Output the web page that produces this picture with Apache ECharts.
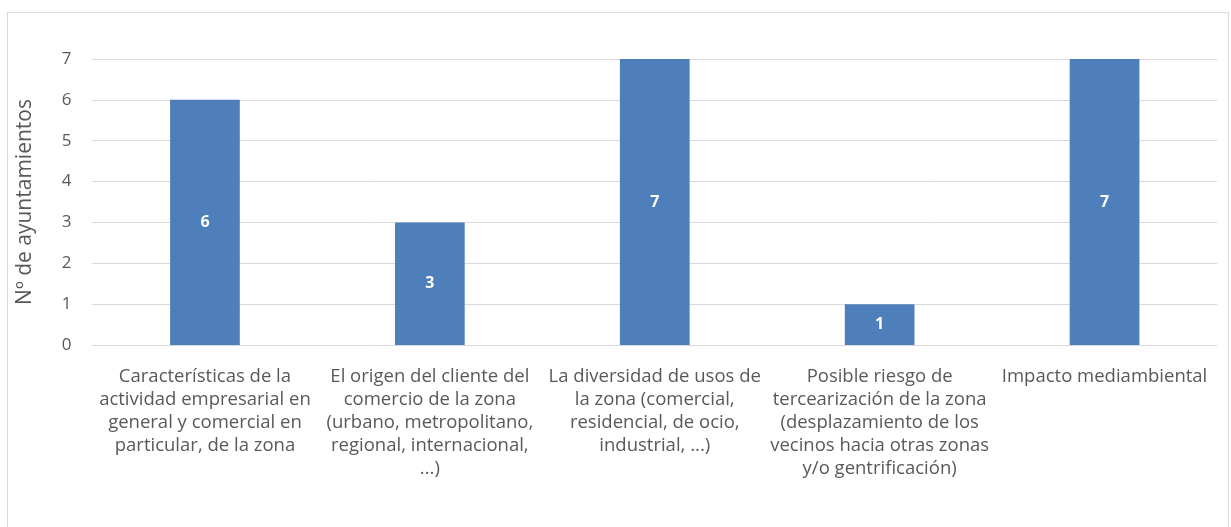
<!DOCTYPE html>
<html>
<head>
<meta charset="utf-8">
<script src="https://cdn.jsdelivr.net/npm/echarts@6/dist/echarts.min.js"></script>
<style>
  html, body { margin: 0; padding: 0; background: #ffffff; }
  #frame {
    position: absolute; left: 7px; top: 12px; width: 1222px; height: 530px;
    border: 1px solid #d9d9d9; box-sizing: border-box;
  }
  #chart { position: absolute; left: 0; top: 0; width: 1231px; height: 527px; }
</style>
</head>
<body>
<div id="frame"></div>
<div id="chart"></div>
<script>
// Factors considered by the councils
const categories = [
  'Características de la\nactividad empresarial en\ngeneral y comercial en\nparticular, de la zona',
  'El origen del cliente del\ncomercio de la zona\n(urbano, metropolitano,\nregional, internacional,\n...)',
  'La diversidad de usos de\nla zona (comercial,\nresidencial, de ocio,\nindustrial, ...)',
  'Posible riesgo de\ntercearización de la zona\n(desplazamiento de los\nvecinos hacia otras zonas\ny/o gentrificación)',
  'Impacto mediambiental'
];
const counts = [6, 3, 7, 1, 7];
const yTicks = [0, 1, 2, 3, 4, 5, 6, 7];

const font = '"Open Sans", Lato, sans-serif';
const chart = echarts.init(document.getElementById('chart'), null, { renderer: 'canvas' });
chart.setOption({
  animation: false,
  grid: { left: 92.5, right: 14, top: 59, bottom: 182, containLabel: false },
  xAxis: {
    type: 'category',
    data: categories,
    axisLine: { show: true, lineStyle: { color: '#d9d9d9', width: 1 } },
    axisTick: { show: false },
    axisLabel: {
      interval: 0, margin: 20, color: '#595959', fontFamily: font, fontSize: 18.5,
      lineHeight: 23, align: 'center'
    }
  },
  yAxis: {
    type: 'value',
    min: yTicks[0], max: yTicks[yTicks.length - 1], interval: 1,
    name: 'Nº de ayuntamientos',
    nameLocation: 'middle', nameGap: 57, nameRotate: 90,
    nameTextStyle: { color: '#595959', fontFamily: font, fontSize: 21 },
    axisLine: { show: false }, axisTick: { show: false },
    axisLabel: { margin: 21, color: '#595959', fontFamily: font, fontSize: 17 },
    splitLine: { lineStyle: { color: '#d9d9d9', width: 1 } }
  },
  series: [{
    type: 'bar',
    data: counts,
    barWidth: '31%',
    itemStyle: { color: '#4f7fbb' },
    label: {
      show: true, position: 'inside', color: '#ffffff', fontWeight: 'bold',
      fontFamily: font, fontSize: 16
    }
  }]
});
</script>
</body>
</html>
